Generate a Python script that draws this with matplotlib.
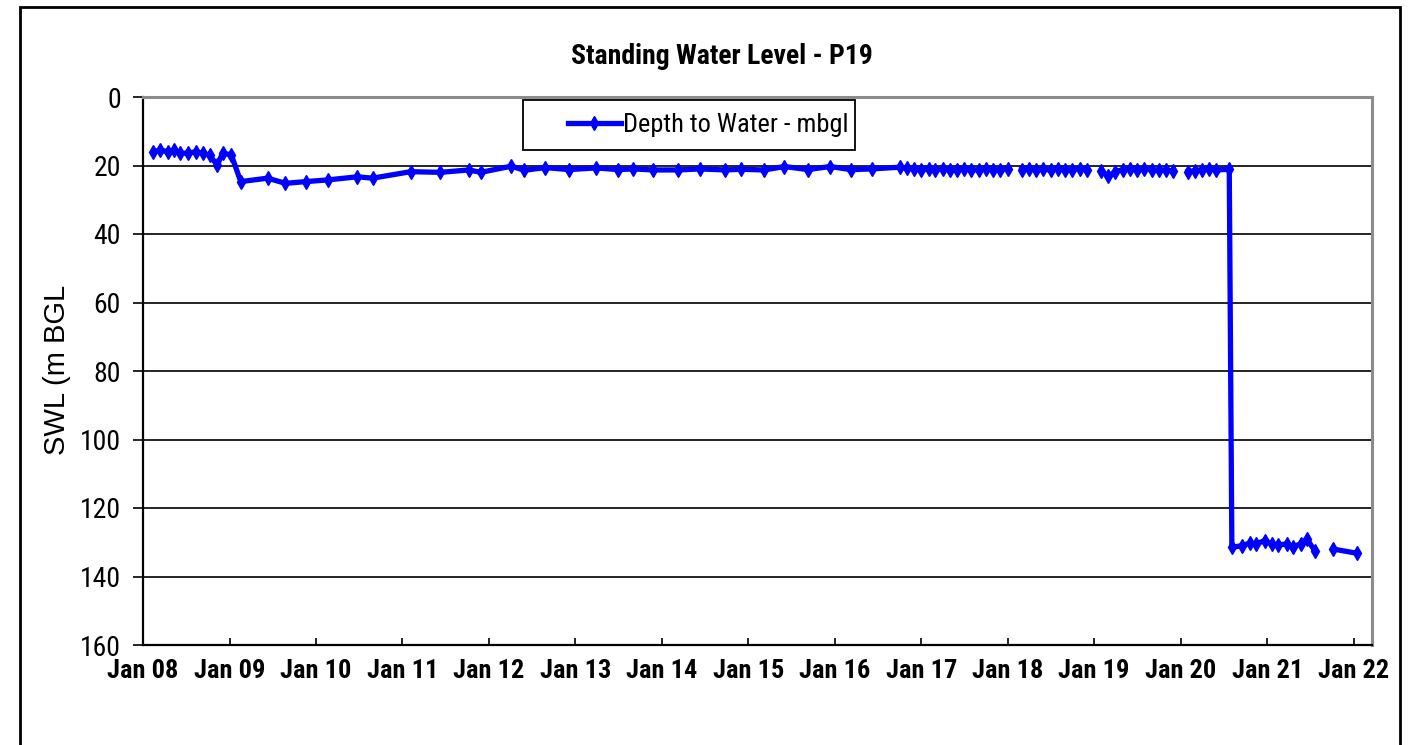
import matplotlib
matplotlib.use("Agg")
import matplotlib.dates as mdates
import matplotlib.pyplot as plt
import numpy as np
import pandas as pd
from matplotlib.patches import Rectangle

TITLE = "Standing Water Level - P19"
Y_LABEL = "SWL (m BGL"
SERIES_LABEL = "Depth to Water - mbgl"

# readings (NaN = missing reading, breaks the line)
dates = [
    "2008-02-14", "2008-03-14", "2008-04-16", "2008-05-11", "2008-06-06",
    "2008-07-08", "2008-08-10", "2008-09-09", "2008-10-08", "2008-11-10",
    "2008-12-02", "2009-01-08", "2009-02-17", "2009-06-10", "2009-08-25",
    "2009-11-20", "2010-02-20", "2010-06-25", "2010-08-28", "2011-02-05",
    "2011-06-10", "2011-10-08", "2011-11-28", "2012-04-05", "2012-05-30",
    "2012-08-25", "2012-12-05", "2013-03-28", "2013-07-01", "2013-09-02",
    "2013-11-25", "2014-03-10", "2014-06-10", "2014-09-25", "2014-12-01",
    "2015-03-10", "2015-06-03", "2015-09-10", "2015-12-12", "2016-03-10",
    "2016-06-05",
    "2016-10-01", "2016-11-01", "2016-12-01",
    "2017-01-01", "2017-02-01", "2017-03-01", "2017-04-01", "2017-05-01",
    "2017-06-01", "2017-07-01", "2017-08-01", "2017-09-01", "2017-10-01",
    "2017-11-01", "2017-12-01",
    "2018-01-01", "2018-02-01", "2018-03-01", "2018-04-01", "2018-05-01",
    "2018-06-01", "2018-07-01", "2018-08-01", "2018-09-01", "2018-10-01",
    "2018-11-01", "2018-12-01",
    "2019-01-01", "2019-02-01", "2019-03-01", "2019-04-01", "2019-05-01",
    "2019-06-01", "2019-07-01", "2019-08-01", "2019-09-01", "2019-10-01",
    "2019-11-01", "2019-12-01",
    "2020-01-01", "2020-02-01", "2020-03-01", "2020-04-01", "2020-05-01",
    "2020-06-01", "2020-07-25",
    "2020-08-05", "2020-09-15", "2020-10-22", "2020-11-15", "2020-12-22",
    "2021-01-20", "2021-02-15", "2021-03-25", "2021-04-20", "2021-05-22",
    "2021-06-18", "2021-07-22", "2021-09-01", "2021-10-08", "2022-01-15",
]
depth = [
    16.0, 15.5, 16.0, 15.5, 16.4,
    16.4, 16.0, 16.4, 17.0, 19.9,
    16.4, 16.9, 24.7, 23.7, 25.2,
    24.7, 24.2, 23.3, 23.7, 21.8,
    22.0, 21.3, 22.0, 20.2, 21.4,
    20.6, 21.2, 20.7, 21.2, 21.0,
    21.3, 21.3, 21.0, 21.3, 21.1,
    21.3, 20.3, 21.2, 20.3, 21.2,
    21.0,
    20.5, 20.8, 21.0,
    21.2, 21.0, 21.3, 21.0, 21.2,
    21.3, 21.0, 21.2, 21.3, 21.0,
    21.2, 21.3,
    21.0, np.nan, 21.2, 21.0, 21.3,
    21.1, 21.3, 21.0, 21.2, 21.3,
    21.0, 21.2,
    np.nan, 21.5, 23.2, 21.8, 21.2,
    21.0, 21.3, 21.1, 21.2, 21.4,
    21.3, 21.6,
    np.nan, 21.8, 21.5, 21.2, 21.0,
    21.3, 21.1,
    131.5, 131.0, 130.2, 130.5, 129.5,
    130.5, 130.8, 130.5, 131.3, 130.5,
    129.0, 132.6, np.nan, 132.0, 133.2,
]

y_ticks = [0, 20, 40, 60, 80, 100, 120, 140, 160]
x_start, x_end = "2008-01-01", "2022-03-20"

NARROW = ["Roboto Condensed", "PT Sans Narrow", "DejaVu Sans"]
plt.rcParams["font.family"] = NARROW

W, H = 1408, 745
fig = plt.figure(figsize=(W / 100, H / 100), dpi=100)
ax = fig.add_axes([143 / W, 1 - 645 / H, (1372 - 143) / W, (645 - 97) / H])

x = pd.to_datetime(dates)
ax.plot(x, depth, color="#0000ff", lw=3.8, marker="d", ms=7.5,
        mec="#0000ff", mfc="#0000ff", label=SERIES_LABEL, zorder=3)

ax.set_xlim(pd.Timestamp(x_start), pd.Timestamp(x_end))
ax.set_ylim(160, 0)
ax.set_yticks(y_ticks)
ax.xaxis.set_major_locator(mdates.YearLocator())
ax.xaxis.set_major_formatter(mdates.DateFormatter("%b %y"))

for v in y_ticks[1:-1]:
    ax.axhline(v, color="black", lw=1.2, zorder=1)

for side in ("top", "right"):
    ax.spines[side].set_color("#8c8c8c")
    ax.spines[side].set_linewidth(2.2)
for side in ("left", "bottom"):
    ax.spines[side].set_color("black")
    ax.spines[side].set_linewidth(1.6)

ax.tick_params(axis="y", direction="out", length=7, width=1.2, pad=9,
               labelsize=20)
ax.tick_params(axis="x", direction="in", length=5, width=1.2, pad=10,
               labelsize=19)
for lab in ax.get_xticklabels():
    lab.set_fontweight("bold")

fig.text(722 / W, 1 - 57 / H, TITLE, ha="center", va="center",
         fontsize=20, fontweight="bold")
fig.text(57 / W, 1 - 370 / H, Y_LABEL, ha="center", va="center",
         rotation=90, fontsize=21, family=["Liberation Sans", "DejaVu Sans"])

# legend box
ax.add_patch(Rectangle((523 / W, 1 - 150 / H), (855 - 523) / W, 50 / H,
                       transform=fig.transFigure, facecolor="white",
                       edgecolor="black", lw=1.3, zorder=4, clip_on=False))
ax.legend(loc="center left", bbox_to_anchor=(568 / W, 1 - 125 / H),
          bbox_transform=fig.transFigure, frameon=False, borderpad=0,
          borderaxespad=0, handlelength=2.0, handletextpad=0.1,
          fontsize=19)

# outer chart border
fig.patches.append(Rectangle((20 / W, -0.05), (1400 - 20) / W, 1.05 - 7 / H,
                             transform=fig.transFigure, fill=False,
                             edgecolor="black", lw=2))

fig.savefig("out.png", dpi=100)
